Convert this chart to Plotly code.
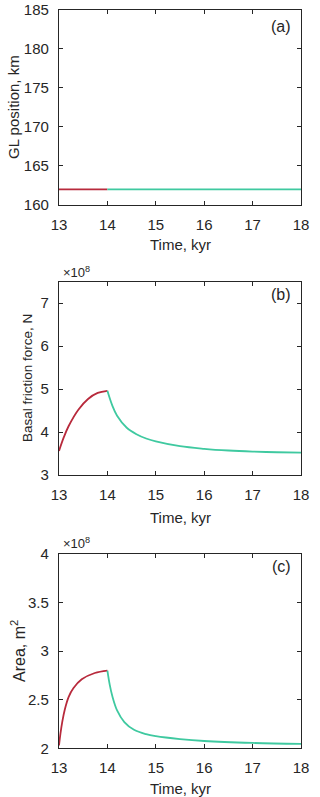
import plotly.graph_objects as go

# Time (kyr) and values
# (a) grounding line position, km
t_a_red = [13, 14]
gl_red = [162, 162]
t_a_green = [14, 18]
gl_green = [162, 162]

# (b) basal friction force (x1e8 N)
t_b_red = [13, 13.1, 13.2, 13.4, 13.6, 13.8, 14]
fr_red = [3.56, 3.88, 4.14, 4.52, 4.77, 4.91, 4.96]
t_b_green = [14, 14.1, 14.2, 14.4, 14.6, 14.8, 15, 15.5, 16, 16.5, 17, 17.5, 18]
fr_green = [4.96, 4.62, 4.38, 4.10, 3.95, 3.85, 3.78, 3.67, 3.61, 3.57, 3.545, 3.53, 3.52]

# (c) area (x1e8 m^2)
t_c_red = [13, 13.03, 13.07, 13.12, 13.2, 13.3, 13.47, 13.74, 14]
ar_red = [2.03, 2.15, 2.28, 2.40, 2.53, 2.62, 2.71, 2.775, 2.80]
t_c_green = [14, 14.05, 14.1, 14.2, 14.35, 14.55, 14.8, 15, 15.5, 16, 17, 18]
ar_green = [2.80, 2.65, 2.54, 2.39, 2.27, 2.19, 2.145, 2.125, 2.095, 2.075, 2.055, 2.045]

RED = "#b82a3c"
GREEN = "#3fc9a0"
FONT = "Liberation Sans, Arial, sans-serif"
INK = "#262626"

W, H = 320, 797


def fx(x):
    return x / W


def fy(y):
    return 1 - y / H


fig = go.Figure()


def add(x, y, color, ax):
    fig.add_trace(go.Scatter(x=x, y=y, mode="lines", xaxis="x" + ax, yaxis="y" + ax,
                             line=dict(color=color, width=1.8, shape="spline", smoothing=1),
                             showlegend=False, hoverinfo="skip"))


add(t_a_red, gl_red, RED, "")
add(t_a_green, gl_green, GREEN, "")
add(t_b_red, fr_red, RED, "2")
add(t_b_green, fr_green, GREEN, "2")
add(t_c_red, ar_red, RED, "3")
add(t_c_green, ar_green, GREEN, "3")

xdom = [fx(59), fx(301)]
panels = [(9.5, 205), (281.7, 475), (554, 748.3)]  # top, bottom (px)

axis_common = dict(showgrid=False, zeroline=False, showline=True, linecolor=INK,
                   linewidth=1.3, mirror="ticks", ticks="inside", ticklen=4,
                   tickcolor=INK, tickwidth=1.2, automargin=False,
                   tickfont=dict(family=FONT, size=15, color=INK))

layout = dict(width=W, height=H, margin=dict(l=0, r=0, t=0, b=0, autoexpand=False),
              paper_bgcolor="white", plot_bgcolor="white", font=dict(family=FONT))

yranges = [[160, 185], [3, 7.5], [2, 4]]
ytickvals = [[160, 165, 170, 175, 180, 185], [3, 4, 5, 6, 7], [2, 2.5, 3, 3.5, 4]]
for i, ((top, bot), yr, yt) in enumerate(zip(panels, yranges, ytickvals)):
    sfx = "" if i == 0 else str(i + 1)
    layout["xaxis" + sfx] = dict(axis_common, domain=xdom, range=[13, 18],
                                 tickvals=[13, 14, 15, 16, 17, 18],
                                 anchor="y" + sfx, ticklabelstandoff=6)
    layout["yaxis" + sfx] = dict(axis_common, domain=[fy(bot), fy(top)], range=yr,
                                 tickvals=yt, anchor="x" + sfx, ticklabelstandoff=6)

fig.update_layout(**layout)


def ann(text, x, y, size=15, xanchor="center", **kw):
    fig.add_annotation(text=text, x=fx(x), y=fy(y), xref="paper", yref="paper",
                       xanchor=xanchor, yanchor="middle", showarrow=False,
                       font=dict(family=FONT, size=size, color=INK), **kw)


# x axis titles
for y in [245, 517, 788]:
    ann("Time, kyr", 180, y)

# y axis titles
ann("GL position, km", 13, 107, textangle=-90)
ann("Basal friction force, N", 28, 378, size=13.5, textangle=-90)
ann("Area, m<sup>2</sup>", 18, 651, size=16, textangle=-90)

# panel labels
ann("(a)", 281, 27, size=16)
ann("(b)", 281, 295, size=16)
ann("(c)", 281, 566, size=16)

# exponent labels
ann("×10<sup>8</sup>", 61, 272, size=13, xanchor="left")
ann("×10<sup>8</sup>", 61, 543, size=13, xanchor="left")

# drop the default page margin so the figure fills the window
fig.write_html("out.html", config={"displayModeBar": False},
               post_script="document.body.style.margin='0';")
